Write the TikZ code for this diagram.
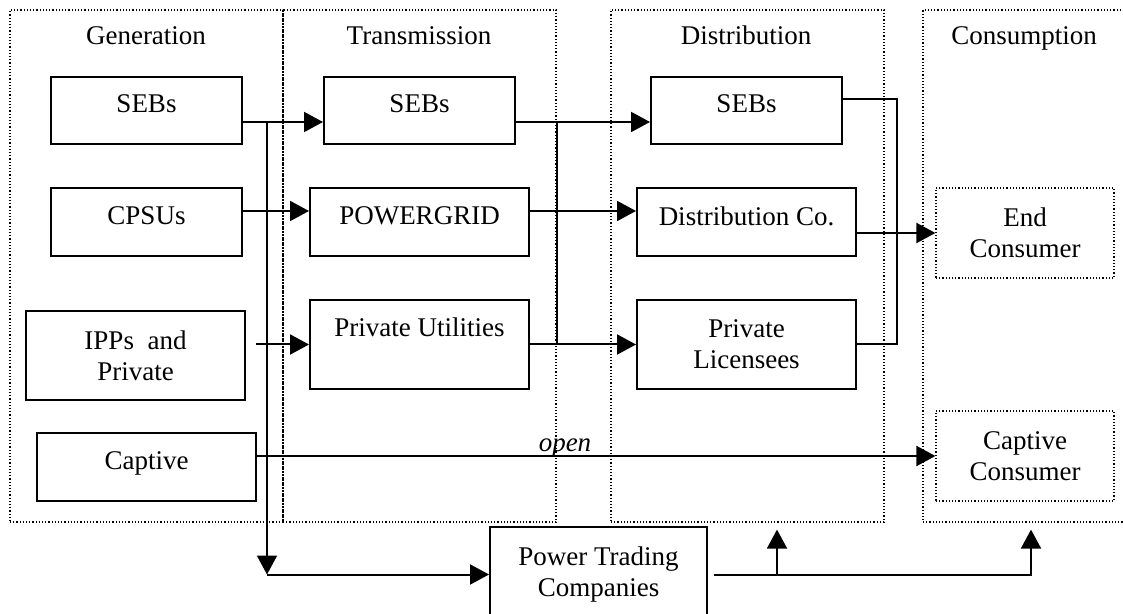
\documentclass[tikz,border=0pt]{standalone}
\usepackage{fontspec}
\setmainfont{Liberation Serif}
\usetikzlibrary{arrows.meta,calc}

\begin{document}
\begin{tikzpicture}[x=0.5pt, y=-0.5pt,
    font=\fontsize{13.5}{15.5}\selectfont,
    panel/.style = {draw, densely dotted, line width=0.6pt, inner sep=0pt, minimum height=256pt},
    unit/.style = {draw, line width=1pt, inner sep=0pt, align=center},
    dotunit/.style = {draw, densely dotted, line width=0.6pt, inner sep=0pt, align=center, minimum width=89pt, minimum height=45pt},
    narrow/.style = {unit, minimum width=95.5pt, minimum height=33.5pt},
    wide/.style = {unit, minimum width=109.5pt},
    head/.style = {anchor=base},
    arr/.style = {line width=1pt, -{Triangle[length=9.5pt, width=10pt]}},
    link/.style = {line width=1pt}]
  \clip (0,0) rectangle (1123,614);
  \node[panel, minimum width=136.5pt] (genp) at (146.5,266) {};
  \node[panel, minimum width=136.5pt] (trap) at (419.5,266) {};
  \node[panel, minimum width=136.5pt] (disp) at (747.5,266) {};
  \node[panel, minimum width=101.5pt] (conp) at (1024.5,266) {};
  \node[head] (genh) at (146,45) {Generation};
  \node[head] (trah) at (419,45) {Transmission};
  \node[head] (dish) at (746,45) {Distribution};
  \node[head] (conh) at (1024,45) {Consumption};

  \node[narrow, text depth=7pt] (gsebs) at (146.5,110.5) {SEBs};
  \node[narrow, minimum height=34pt, text depth=6pt] (cpsus) at (146.5,222) {CPSUs};
  \node[wide, minimum height=44.5pt] (ipps) at (135.5,355.5) {IPPs\ \ and\\Private};
  \node[wide, minimum height=34pt, text depth=6pt] (captive) at (146.5,467) {Captive};
  \node[narrow, text depth=7pt] (tsebs) at (419.5,110.5) {SEBs};
  \node[wide, minimum height=34pt, text depth=6pt] (pgrid) at (419.5,222) {POWERGRID};
  \node[wide, minimum height=44.5pt, text depth=17.5pt] (putil) at (419.5,344.5) {Private Utilities};
  \node[narrow, text depth=7pt] (dsebs) at (746.5,110.5) {SEBs};
  \node[wide, minimum height=34pt, text depth=6pt] (dco) at (746.5,222) {Distribution Co.};
  \node[wide, minimum height=44.5pt] (plic) at (746.5,344.5) {Private\\Licensees};
  \node[dotunit] (endc) at (1025,233) {End\\Consumer};
  \node[dotunit] (capc) at (1025,456) {Captive\\Consumer};
  \node[unit, minimum width=108.5pt, minimum height=47.5pt] (ptc) at (598.5,574.5) {Power Trading\\Companies};

  \coordinate (gbus) at ($(gsebs.east)+(24,11.5)$);
  \draw[arr] ([yshift=-5.75pt]gsebs.east) -- ([yshift=-5.75pt]tsebs.west);
  \draw[arr] (gbus) -- (gbus |- ptc.west);
  \draw[arr] (gbus |- ptc.west) -- (ptc.west);
  \draw[arr] ([yshift=5.5pt]cpsus.east) -- ([yshift=5.5pt]pgrid.west);
  \draw[arr] ([xshift=5pt]ipps.east |- putil.west) -- (putil.west);
  \draw[arr] (captive.east |- capc.west) -- node[pos=0.454, anchor=base, yshift=2.5pt, inner sep=0pt] (openl) {\itshape open} (capc.west);

  \coordinate (tbus) at ($(tsebs.east)+(41,11.5)$);
  \draw[arr] ([yshift=-5.75pt]tsebs.east) -- ([yshift=-5.75pt]dsebs.west);
  \draw[link] (tbus) -- (tbus |- plic.west);
  \draw[arr] ([yshift=5.5pt]pgrid.east) -- ([yshift=5.5pt]dco.west);
  \draw[arr] (putil.east) -- (plic.west);

  \coordinate (dbus) at ($(plic.east)+(40,0)$);
  \draw[link] ([yshift=5.75pt]dsebs.east) -| (dbus) -- (plic.east);
  \draw[arr] ([yshift=-5.5pt]dco.east) -- (endc.west);

  \coordinate (tradeout) at ($(ptc.east)+(6,0)$);
  \coordinate (distup) at ($(disp.south)+(29.5,7)$);
  \coordinate (consup) at ($(conp.south)+(6.5,7)$);
  \draw[arr] (tradeout) -| (consup);
  \draw[arr] (tradeout -| distup) -- (distup);
\end{tikzpicture}
\end{document}
